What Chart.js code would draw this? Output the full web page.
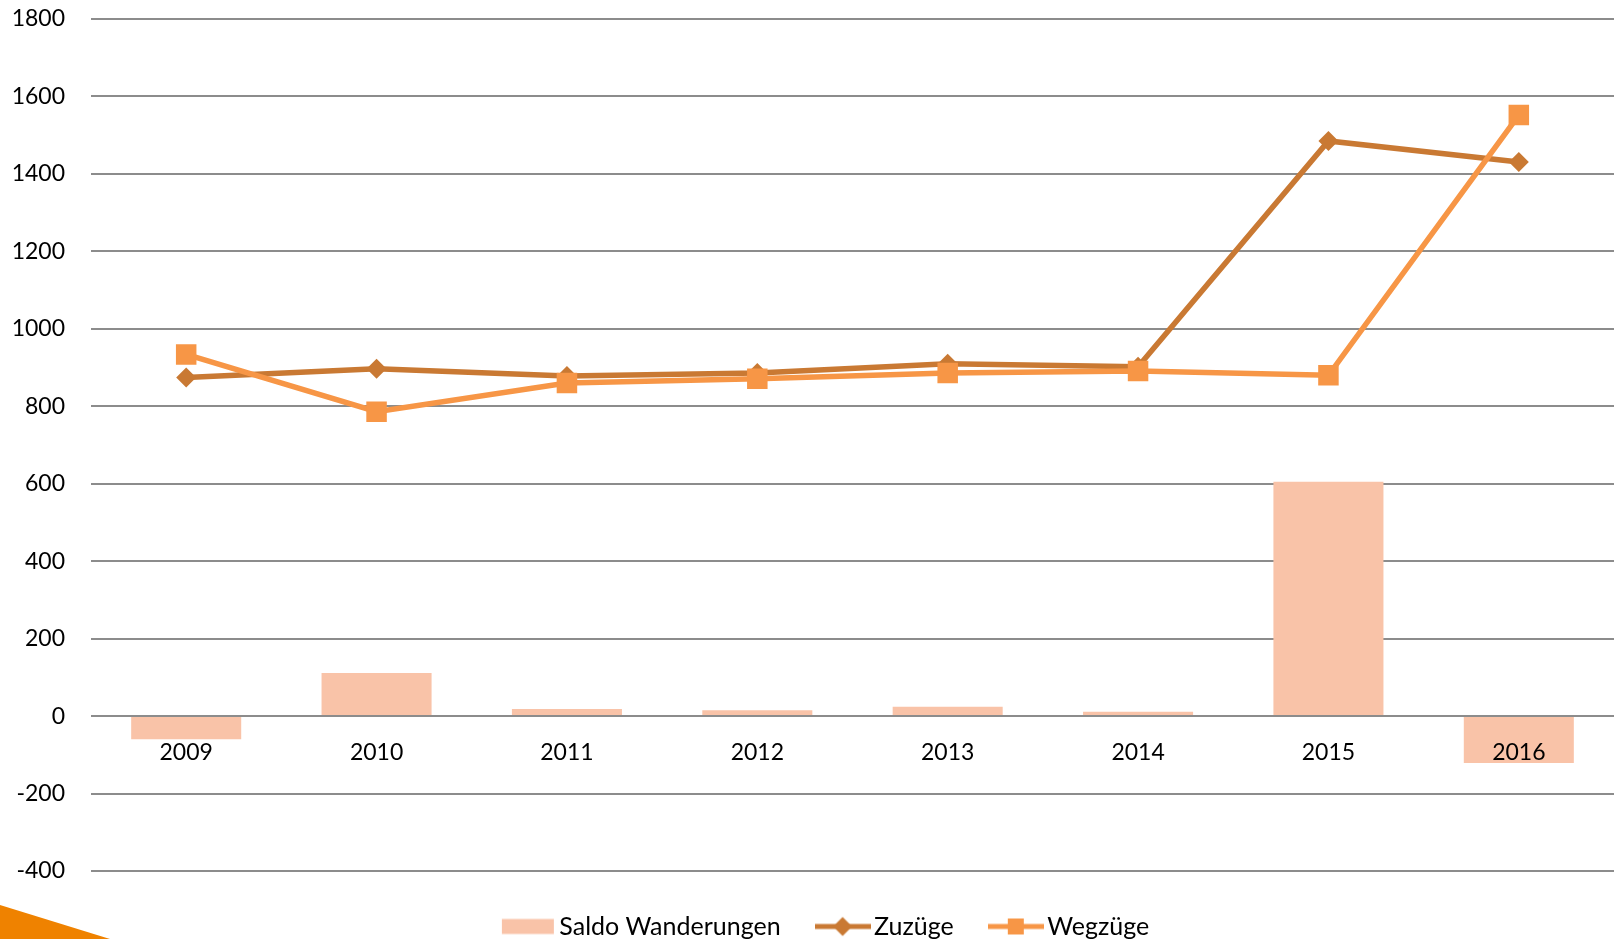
<!DOCTYPE html>
<html lang="de">
<head>
<meta charset="utf-8">
<title>Wanderungen 2009–2016</title>
<script src="https://cdn.jsdelivr.net/npm/chart.js@4"></script>
<style>
  html, body { margin: 0; padding: 0; background: #fff; }
  #wrap { position: relative; width: 1619px; height: 939px; overflow: hidden; }
  #corner {
    position: absolute; left: 0; bottom: 0; width: 110px; height: 34px;
    background: #ef8200; clip-path: polygon(0 0, 100% 100%, 0 100%);
  }
</style>
</head>
<body>
<div id="wrap">
  <canvas id="chart" width="1619" height="939"></canvas>
  <div id="corner"></div>
</div>
<script>
// Werte
const years = ['2009', '2010', '2011', '2012', '2013', '2014', '2015', '2016'];
const saldo = [-60, 111, 18, 15, 24, 11, 605, -121];
const zuzuege = [874, 897, 878, 886, 910, 902, 1485, 1431];
const wegzuege = [934, 786, 860, 871, 886, 891, 880, 1552];

const yMin = -400;
const yMax = 1800;
const yStep = 200;

const seriesNames = ['Saldo Wanderungen', 'Zuzüge', 'Wegzüge'];
const colBar = '#f9c3a8';
const colZu = '#c97933';
const colWeg = '#f79646';

// small canvases for the legend symbols (line with marker / box)
function legendIcon(kind, color) {
    const c = document.createElement('canvas');
    c.width = 56;
    c.height = 22;
    const g = c.getContext('2d');
    g.fillStyle = color;
    g.strokeStyle = color;
    if (kind === 'bar') {
        g.fillRect(2, 3.5, 52, 15);
        return c;
    }
    g.lineWidth = 5;
    g.beginPath();
    g.moveTo(0, 11);
    g.lineTo(56, 11);
    g.stroke();
    g.beginPath();
    if (kind === 'diamond') {
        g.moveTo(28, 1.5); g.lineTo(37.5, 11); g.lineTo(28, 20.5); g.lineTo(18.5, 11);
        g.closePath();
    } else {
        g.rect(20, 3, 16, 16);
    }
    g.fill();
    return c;
}
const icons = [legendIcon('bar', colBar), legendIcon('diamond', colZu), legendIcon('square', colWeg)];

const font = 'Lato, "Open Sans", sans-serif';

// the legend in the original sits a bit right of centre
const legendShift = {
    id: 'legendShift',
    afterLayout(chart) {
        if (chart.legend) {
            chart.legend.left += 22;
            chart.legend.right += 22;
        }
    }
};

new Chart(document.getElementById('chart'), {
    data: {
        labels: years,
        datasets: [
            {
                type: 'bar',
                label: seriesNames[0],
                data: saldo,
                backgroundColor: colBar,
                borderWidth: 0,
                barPercentage: 0.578,
                categoryPercentage: 1,
                order: 3
            },
            {
                type: 'line',
                label: seriesNames[1],
                data: zuzuege,
                borderColor: colZu,
                backgroundColor: colZu,
                borderWidth: 5.5,
                pointStyle: 'rectRot',
                pointRadius: 10,
                pointBorderWidth: 0,
                pointBackgroundColor: colZu,
                tension: 0,
                fill: false,
                order: 2
            },
            {
                type: 'line',
                label: seriesNames[2],
                data: wegzuege,
                borderColor: colWeg,
                backgroundColor: colWeg,
                borderWidth: 5.5,
                pointStyle: 'rect',
                pointRadius: 14.5,
                pointBorderWidth: 0,
                pointBackgroundColor: colWeg,
                tension: 0,
                fill: false,
                order: 1
            }
        ]
    },
    options: {
        responsive: false,
        animation: false,
        events: [],
        layout: { autoPadding: false, padding: { top: 19, right: 5, bottom: -10, left: 0 } },
        scales: {
            x: {
                type: 'category',
                offset: true,
                position: { y: 0 },
                grid: { display: false, drawTicks: false },
                border: { display: false },
                ticks: { z: 1, color: '#000', padding: 23, font: { family: font, size: 23 } },
                afterFit(scale) { scale.paddingLeft = 0; scale.paddingRight = 0; }
            },
            y: {
                min: yMin,
                max: yMax,
                grid: { color: '#8c8c8c', lineWidth: 2, drawTicks: false },
                border: { display: false },
                ticks: {
                    stepSize: yStep,
                    padding: 26,
                    color: '#000',
                    font: { family: font, size: 23 },
                    callback: v => String(v)
                },
                afterFit(scale) {
                    scale.width = 91;
                    scale.paddingTop = 0;
                    scale.paddingBottom = 0;
                }
            }
        },
        plugins: {
            tooltip: { enabled: false },
            legend: {
                position: 'bottom',
                labels: {
                    usePointStyle: true,
                    pointStyleWidth: 38,
                    padding: 43,
                    color: '#000',
                    font: { family: font, size: 25 },
                    sort: (a, b) => a.datasetIndex - b.datasetIndex,
                    generateLabels(chart) {
                        const items = Chart.defaults.plugins.legend.labels.generateLabels(chart);
                        items.forEach(it => {
                            it.pointStyle = icons[it.datasetIndex];
                            it.lineWidth = 0;
                        });
                        return items;
                    }
                }
            }
        }
    },
    plugins: [legendShift]
});
</script>
</body>
</html>
